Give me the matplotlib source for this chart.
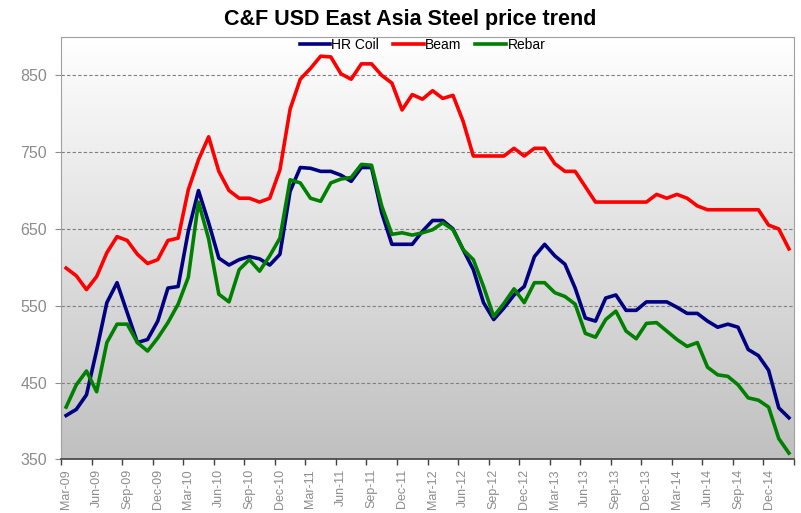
import numpy as np
import matplotlib
matplotlib.use("Agg")
import matplotlib.pyplot as plt

# monthly prices, Mar-09 .. Feb-15 (USD/t, C&F East Asia)
hr_coil = [407, 415, 434, 492, 554, 580, 541, 502, 506, 530, 573, 575,
           647, 700, 658, 612, 603, 610, 614, 611, 603, 617, 699, 730,
           729, 725, 725, 720, 712, 730, 730, 671, 630, 630, 630, 647,
           661, 661, 650, 623, 597, 554, 532, 547, 564, 575, 614, 630,
           615, 604, 573, 534, 530, 560, 564, 544, 544, 555, 555, 555,
           548, 540, 540, 530, 522, 526, 522, 493, 485, 466, 417, 404]

beam = [599, 589, 571, 588, 619, 640, 635, 617, 605, 610, 635, 638,
        701, 740, 770, 725, 700, 690, 690, 685, 690, 727, 806, 845,
        859, 875, 874, 852, 845, 865, 865, 850, 840, 805, 825, 819,
        830, 820, 824, 790, 745, 745, 745, 745, 755, 745, 755, 755,
        735, 725, 725, 705, 685, 685, 685, 685, 685, 685, 695, 690,
        695, 690, 680, 675, 675, 675, 675, 675, 675, 655, 650, 624]

rebar = [418, 447, 465, 438, 502, 526, 526, 502, 491, 508, 528, 552,
         587, 685, 637, 565, 555, 597, 610, 595, 615, 638, 714, 710,
         690, 686, 710, 715, 717, 734, 733, 680, 643, 645, 642, 645,
         649, 658, 649, 623, 610, 575, 536, 553, 572, 554, 580, 580,
         567, 562, 552, 514, 509, 532, 543, 517, 507, 527, 528, 517,
         506, 497, 502, 470, 460, 458, 447, 430, 427, 418, 377, 358]

tick_labels = ["Mar-09", "Jun-09", "Sep-09", "Dec-09", "Mar-10", "Jun-10",
               "Sep-10", "Dec-10", "Mar-11", "Jun-11", "Sep-11", "Dec-11",
               "Mar-12", "Jun-12", "Sep-12", "Dec-12", "Mar-13", "Jun-13",
               "Sep-13", "Dec-13", "Mar-14", "Jun-14", "Sep-14", "Dec-14"]

plt.rcParams["font.family"] = ["Liberation Sans", "DejaVu Sans"]

fig = plt.figure(figsize=(8.01, 5.13), dpi=100)
ax = fig.add_axes([0.0762, 0.1047, 0.9151, 0.8232])

# grey gradient plot area
grad = np.linspace(0, 1, 256).reshape(-1, 1)
cmap = matplotlib.colors.LinearSegmentedColormap.from_list("bg", ["#ffffff", "#c0c0c0"])
ax.imshow(grad, cmap=cmap, aspect="auto", extent=[0, 1, 0, 1],
          transform=ax.transAxes, zorder=0, interpolation="bilinear")

x = np.arange(len(hr_coil))
ax.plot(x, hr_coil, color="#000080", lw=2.6, label="HR Coil", zorder=3, solid_joinstyle="round")
ax.plot(x, beam, color="#ff0000", lw=2.6, label="Beam", zorder=3, solid_joinstyle="round")
ax.plot(x, rebar, color="#008000", lw=2.6, label="Rebar", zorder=4, solid_joinstyle="round")

ax.set_xlim(-0.5, len(hr_coil) - 0.5)
ax.set_ylim(350, 900)

ax.set_yticks(np.arange(350, 851, 100))
for v in range(450, 851, 100):
    ax.axhline(v, color="#7f7f7f", lw=0.8, ls=(0, (3, 2)), zorder=1)
ax.tick_params(axis="y", colors="#8c8c8c", labelsize=11.5, length=4, width=0.8, pad=6)

# ticks at category boundaries, labels at category centres
ax.set_xticks(np.arange(-0.5, len(hr_coil), 3))
ax.set_xticklabels([])
ax.set_xticks(np.arange(0, 3 * len(tick_labels), 3), minor=True)
ax.set_xticklabels(tick_labels, minor=True, rotation=90)
ax.tick_params(axis="x", which="major", length=4, width=1, color="#404040")
ax.tick_params(axis="x", which="minor", length=0, pad=7, labelsize=9, labelcolor="#8c8c8c")

for s in ["left", "top", "right"]:
    ax.spines[s].set_color("#a0a0a0")
ax.spines["bottom"].set_color("#404040")
ax.spines["bottom"].set_linewidth(1.2)

ax.legend(loc="center", bbox_to_anchor=(0.493, 0.981), ncol=3, frameon=False,
          fontsize=10, handlelength=2.2, handletextpad=0.1, columnspacing=1.0,
          borderaxespad=0)

fig.text(0.512, 0.962, "C&F USD East Asia Steel price trend", ha="center", va="center",
         fontsize=15.5, fontweight="bold")

fig.savefig("out.png", dpi=100)
